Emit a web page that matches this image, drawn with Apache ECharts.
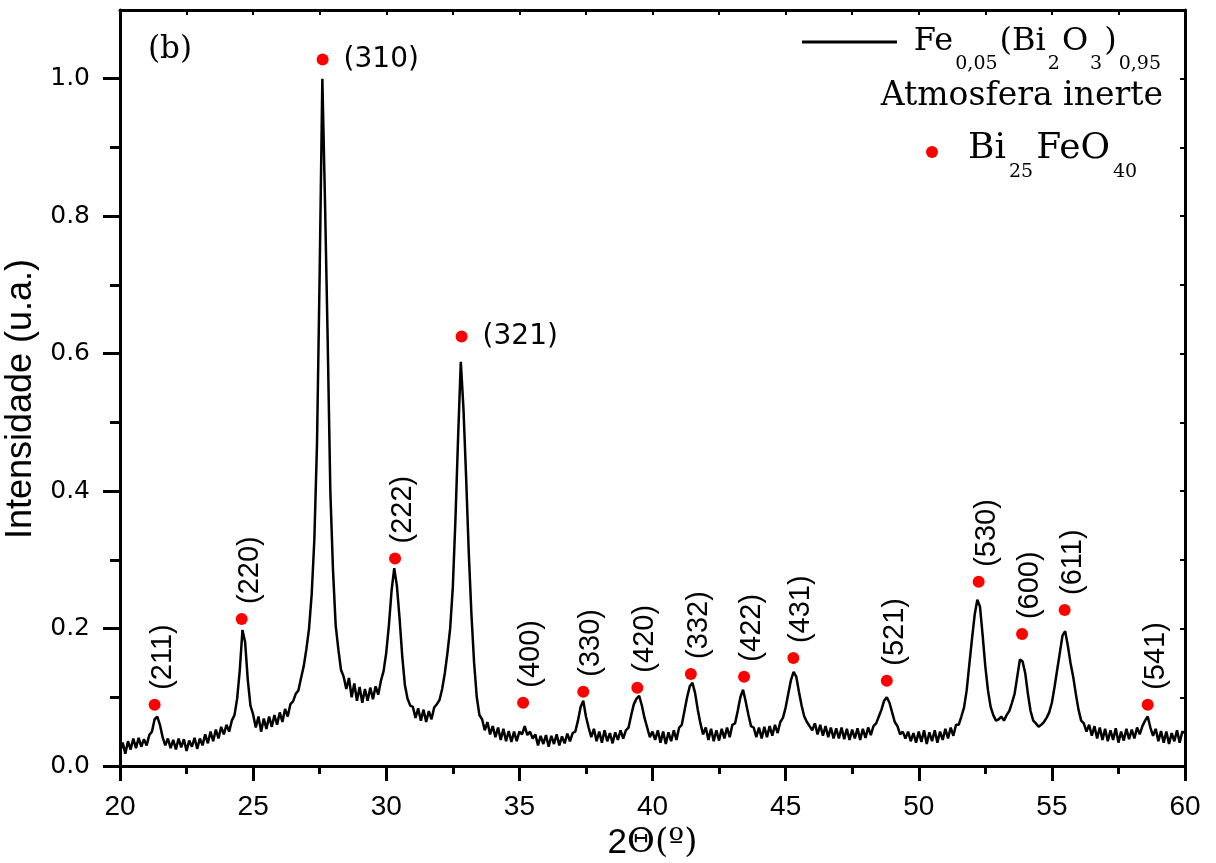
<!DOCTYPE html>
<html>
<head>
<meta charset="utf-8">
<script src="https://cdn.jsdelivr.net/npm/echarts@6/dist/echarts.min.js"></script>
<style>html,body{margin:0;padding:0;background:#fff}#chart{width:1216px;height:863px}</style>
</head>
<body>
<div id="chart"></div>
<script>
// 2-theta (degrees) of the scan
const twoTheta = [
20.0,20.1,20.2,20.3,20.4,20.5,20.6,20.7,20.8,20.9,
21.0,21.1,21.2,21.3,21.4,21.5,21.6,21.7,21.8,21.9,
22.0,22.1,22.2,22.3,22.4,22.5,22.6,22.7,22.8,22.9,
23.0,23.1,23.2,23.3,23.4,23.5,23.6,23.7,23.8,23.9,
24.0,24.1,24.2,24.3,24.4,24.5,24.6,24.7,24.8,24.9,
25.0,25.1,25.2,25.3,25.4,25.5,25.6,25.7,25.8,25.9,
26.0,26.1,26.2,26.3,26.4,26.5,26.6,26.7,26.8,26.9,
27.0,27.1,27.2,27.3,27.4,27.5,27.6,27.7,27.8,27.9,
28.0,28.1,28.2,28.3,28.4,28.5,28.6,28.7,28.8,28.9,
29.0,29.1,29.2,29.3,29.4,29.5,29.6,29.7,29.8,29.9,
30.0,30.1,30.2,30.3,30.4,30.5,30.6,30.7,30.8,30.9,
31.0,31.1,31.2,31.3,31.4,31.5,31.6,31.7,31.8,31.9,
32.0,32.1,32.2,32.3,32.4,32.5,32.6,32.7,32.8,32.9,
33.0,33.1,33.2,33.3,33.4,33.5,33.6,33.7,33.8,33.9,
34.0,34.1,34.2,34.3,34.4,34.5,34.6,34.7,34.8,34.9,
35.0,35.1,35.2,35.3,35.4,35.5,35.6,35.7,35.8,35.9,
36.0,36.1,36.2,36.3,36.4,36.5,36.6,36.7,36.8,36.9,
37.0,37.1,37.2,37.3,37.4,37.5,37.6,37.7,37.8,37.9,
38.0,38.1,38.2,38.3,38.4,38.5,38.6,38.7,38.8,38.9,
39.0,39.1,39.2,39.3,39.4,39.5,39.6,39.7,39.8,39.9,
40.0,40.1,40.2,40.3,40.4,40.5,40.6,40.7,40.8,40.9,
41.0,41.1,41.2,41.3,41.4,41.5,41.6,41.7,41.8,41.9,
42.0,42.1,42.2,42.3,42.4,42.5,42.6,42.7,42.8,42.9,
43.0,43.1,43.2,43.3,43.4,43.5,43.6,43.7,43.8,43.9,
44.0,44.1,44.2,44.3,44.4,44.5,44.6,44.7,44.8,44.9,
45.0,45.1,45.2,45.3,45.4,45.5,45.6,45.7,45.8,45.9,
46.0,46.1,46.2,46.3,46.4,46.5,46.6,46.7,46.8,46.9,
47.0,47.1,47.2,47.3,47.4,47.5,47.6,47.7,47.8,47.9,
48.0,48.1,48.2,48.3,48.4,48.5,48.6,48.7,48.8,48.9,
49.0,49.1,49.2,49.3,49.4,49.5,49.6,49.7,49.8,49.9,
50.0,50.1,50.2,50.3,50.4,50.5,50.6,50.7,50.8,50.9,
51.0,51.1,51.2,51.3,51.4,51.5,51.6,51.7,51.8,51.9,
52.0,52.1,52.2,52.3,52.4,52.5,52.6,52.7,52.8,52.9,
53.0,53.1,53.2,53.3,53.4,53.5,53.6,53.7,53.8,53.9,
54.0,54.1,54.2,54.3,54.4,54.5,54.6,54.7,54.8,54.9,
55.0,55.1,55.2,55.3,55.4,55.5,55.6,55.7,55.8,55.9,
56.0,56.1,56.2,56.3,56.4,56.5,56.6,56.7,56.8,56.9,
57.0,57.1,57.2,57.3,57.4,57.5,57.6,57.7,57.8,57.9,
58.0,58.1,58.2,58.3,58.4,58.5,58.6,58.7,58.8,58.9,
59.0,59.1,59.2,59.3,59.4,59.5,59.6,59.7,59.8,59.9,
60.0
];
// normalized intensity (u.a.)
const intensity = [
0.020,0.034,0.018,0.036,0.024,0.040,0.026,0.041,0.028,0.039,
0.030,0.045,0.050,0.068,0.072,0.060,0.042,0.030,0.040,0.026,
0.038,0.024,0.040,0.027,0.039,0.022,0.037,0.028,0.041,0.025,
0.040,0.030,0.046,0.033,0.050,0.036,0.053,0.040,0.057,0.046,
0.060,0.050,0.066,0.074,0.098,0.140,0.198,0.180,0.125,0.088,
0.075,0.056,0.072,0.050,0.069,0.054,0.072,0.057,0.074,0.060,
0.078,0.064,0.083,0.072,0.090,0.094,0.105,0.110,0.128,0.145,
0.170,0.200,0.250,0.330,0.470,0.720,1.000,0.820,0.620,0.400,
0.285,0.205,0.170,0.140,0.130,0.112,0.128,0.100,0.120,0.095,
0.115,0.092,0.112,0.095,0.114,0.097,0.116,0.104,0.124,0.138,
0.165,0.205,0.255,0.288,0.262,0.215,0.160,0.118,0.098,0.088,
0.086,0.070,0.084,0.066,0.082,0.064,0.080,0.068,0.085,0.090,
0.096,0.112,0.135,0.165,0.200,0.260,0.360,0.480,0.588,0.520,
0.420,0.310,0.220,0.150,0.100,0.074,0.068,0.052,0.064,0.046,
0.058,0.042,0.056,0.038,0.054,0.036,0.051,0.035,0.050,0.036,
0.050,0.046,0.058,0.045,0.050,0.040,0.046,0.030,0.044,0.032,
0.045,0.028,0.044,0.032,0.046,0.030,0.043,0.033,0.047,0.036,
0.048,0.050,0.066,0.086,0.095,0.072,0.056,0.042,0.054,0.036,
0.050,0.034,0.052,0.036,0.048,0.033,0.049,0.038,0.052,0.040,
0.052,0.056,0.074,0.090,0.098,0.102,0.088,0.070,0.056,0.042,
0.050,0.038,0.052,0.034,0.050,0.032,0.049,0.036,0.052,0.038,
0.056,0.060,0.080,0.100,0.116,0.121,0.106,0.082,0.062,0.046,
0.056,0.038,0.054,0.036,0.052,0.037,0.054,0.040,0.056,0.042,
0.060,0.062,0.080,0.100,0.111,0.094,0.075,0.058,0.056,0.042,
0.056,0.040,0.057,0.042,0.058,0.044,0.060,0.048,0.064,0.070,
0.085,0.105,0.125,0.137,0.130,0.108,0.088,0.072,0.064,0.058,
0.052,0.062,0.046,0.060,0.044,0.058,0.042,0.056,0.040,0.055,
0.040,0.056,0.039,0.054,0.038,0.053,0.040,0.055,0.038,0.054,
0.041,0.056,0.045,0.058,0.062,0.072,0.082,0.095,0.100,0.092,
0.078,0.064,0.058,0.046,0.050,0.040,0.050,0.036,0.048,0.034,
0.050,0.035,0.052,0.032,0.049,0.036,0.052,0.034,0.050,0.038,
0.054,0.040,0.056,0.044,0.060,0.060,0.072,0.085,0.110,0.148,
0.185,0.220,0.242,0.232,0.190,0.145,0.110,0.086,0.074,0.066,
0.068,0.072,0.066,0.074,0.080,0.092,0.105,0.130,0.155,0.152,
0.135,0.105,0.080,0.066,0.062,0.057,0.060,0.064,0.070,0.078,
0.092,0.115,0.140,0.165,0.190,0.196,0.175,0.150,0.130,0.105,
0.082,0.066,0.062,0.050,0.060,0.044,0.058,0.040,0.056,0.038,
0.054,0.036,0.052,0.038,0.055,0.034,0.050,0.037,0.054,0.039,
0.053,0.040,0.056,0.046,0.058,0.066,0.072,0.056,0.044,0.054,
0.036,0.051,0.034,0.050,0.032,0.048,0.036,0.052,0.034,0.050,
0.048
];

// Bi25FeO40 reflections
const peakHkl   = ['(211)','(220)','(310)','(222)','(321)','(400)','(330)','(420)','(332)','(422)','(431)','(521)','(530)','(600)','(611)','(541)'];
const peakAngle = [21.30, 24.57, 27.61, 30.33, 32.83, 35.14, 37.40, 39.43, 41.44, 43.44, 45.29, 48.80, 52.25, 53.88, 55.48, 58.60];
const peakMark  = [0.089, 0.214, 1.028, 0.302, 0.625, 0.092, 0.108, 0.114, 0.134, 0.130, 0.157, 0.124, 0.268, 0.192, 0.227, 0.089];
const horizontalPeakLabels = ['(310)', '(321)'];

const yMajorTicks = [0, 0.2, 0.4, 0.6, 0.8, 1.0];
const yMinorTicks = [0.1, 0.3, 0.5, 0.7, 0.9];
const yRightTicks = [0.1, 0.2, 0.3, 0.4, 0.5, 0.6, 0.7, 0.8, 0.9, 1.0];

const seriesName = 'Fe0,05(Bi2O3)0,95 Atmosfera inerte';
const phaseName = 'Bi25FeO40';

const chart = echarts.init(document.getElementById('chart'), null, {renderer: 'canvas'});

const lineData = twoTheta.map((t, i) => [t, intensity[i]]);
const peakData = peakHkl.map((hkl, i) => {
  const horiz = horizontalPeakLabels.indexOf(hkl) >= 0;
  return {
    name: hkl,
    value: [peakAngle[i], peakMark[i]],
    label: horiz ? {
      show: true, formatter: '{b}', position: 'right', distance: 15, rotate: 0,
      fontFamily: 'DejaVu Sans', fontSize: 28, color: '#000'
    } : {
      show: true, formatter: '{b}', position: 'top', distance: 9, rotate: 90,
      align: 'left', verticalAlign: 'middle', offset: [0, 8],
      fontFamily: 'Liberation Sans', fontSize: 29, color: '#000'
    }
  };
});

const option = {
  animation: false,
  backgroundColor: '#fff',
  grid: {left: 120, right: 31, top: 10, bottom: 97, containLabel: false, outerBoundsMode: 'none'},
  xAxis: [{
    type: 'value', min: 20, max: 60, interval: 5, position: 'bottom',
    name: '{a|2}{b|Θ(º)}', nameLocation: 'middle', nameGap: 56,
    nameTextStyle: {rich: {
      a: {fontFamily: 'Liberation Sans', fontSize: 35, color: '#000'},
      b: {fontFamily: 'DejaVu Serif', fontSize: 34, color: '#000'}
    }},
    axisLine: {show: true, onZero: false, lineStyle: {color: '#000', width: 3}},
    axisTick: {show: true, inside: false, length: 15, lineStyle: {color: '#000', width: 3}},
    minorTick: {show: true, splitNumber: 2, length: 8, lineStyle: {color: '#000', width: 3}},
    axisLabel: {show: true, margin: 27, fontFamily: 'Liberation Sans', fontSize: 28, color: '#000'},
    splitLine: {show: false}, minorSplitLine: {show: false}
  }, {
    type: 'value', min: 20, max: 60, interval: 2.5, position: 'top',
    axisLine: {show: true, onZero: false, lineStyle: {color: '#000', width: 3}},
    axisTick: {show: true, inside: true, length: 5, lineStyle: {color: '#000', width: 2}},
    axisLabel: {show: false}, splitLine: {show: false}
  }],
  yAxis: [{
    type: 'value', min: 0, max: 1.1, position: 'left',
    name: 'Intensidade (u.a.)', nameLocation: 'middle', nameRotate: 90, nameGap: 64,
    nameTextStyle: {fontFamily: 'Liberation Sans', fontSize: 36, color: '#000', padding: [0, 22, 0, 0]},
    axisLine: {show: true, onZero: false, lineStyle: {color: '#000', width: 3}},
    axisTick: {show: true, inside: false, length: 17, customValues: yMajorTicks, lineStyle: {color: '#000', width: 3}},
    axisLabel: {show: true, margin: 30, customValues: yMajorTicks, formatter: v => v.toFixed(1),
      fontFamily: 'DejaVu Sans', fontSize: 25, color: '#000'},
    splitLine: {show: false}
  }, {
    type: 'value', min: 0, max: 1.1, position: 'left',
    axisLine: {show: false, onZero: false},
    axisTick: {show: true, inside: false, length: 10, customValues: yMinorTicks, lineStyle: {color: '#000', width: 3}},
    axisLabel: {show: false}, splitLine: {show: false}
  }, {
    type: 'value', min: 0, max: 1.1, position: 'right',
    axisLine: {show: true, onZero: false, lineStyle: {color: '#000', width: 3}},
    axisTick: {show: true, inside: true, length: 5, customValues: yRightTicks, lineStyle: {color: '#000', width: 2}},
    axisLabel: {show: false}, splitLine: {show: false}
  }],
  series: [{
    name: seriesName, type: 'line', xAxisIndex: 0, yAxisIndex: 0,
    data: lineData, showSymbol: false, symbol: 'none', smooth: false,
    lineStyle: {color: '#000', width: 2.5}, z: 2, silent: true
  }, {
    name: phaseName, type: 'scatter', xAxisIndex: 0, yAxisIndex: 0,
    data: peakData, symbol: 'circle', symbolSize: 12,
    itemStyle: {color: '#ff0000', opacity: 1}, z: 3, silent: true
  }],
  graphic: [
    {type: 'text', x: 170, y: 50, style: {text: '(b)', align: 'center', verticalAlign: 'middle',
      fontFamily: 'DejaVu Serif', fontSize: 31, fill: '#000'}},
    {type: 'line', shape: {x1: 802, y1: 42, x2: 897, y2: 42}, style: {stroke: '#000', lineWidth: 3}},
    {type: 'text', x: 1163, y: 26, style: {
      text: '{m|Fe}{s|0,05}{m|(Bi}{s|2}{m|O}{s|3}{m|)}{s|0,95}', align: 'right', verticalAlign: 'top',
      rich: {
        m: {fontFamily: 'DejaVu Serif', fontSize: 32, verticalAlign: 'top', fill: '#000'},
        s: {fontFamily: 'DejaVu Serif', fontSize: 19, verticalAlign: 'top', padding: [29, 2, 0, 2], fill: '#000'}
      }}},
    {type: 'text', x: 1163, y: 96, style: {text: 'Atmosfera inerte', align: 'right', verticalAlign: 'middle',
      fontFamily: 'DejaVu Serif', fontSize: 33, fill: '#000'}},
    {type: 'circle', shape: {cx: 932, cy: 152, r: 6}, style: {fill: '#ff0000'}},
    {type: 'text', x: 968, y: 131, style: {
      text: '{m|Bi}{s|25}{m|FeO}{s|40}', align: 'left', verticalAlign: 'top',
      rich: {
        m: {fontFamily: 'DejaVu Serif', fontSize: 36, verticalAlign: 'top', fill: '#000'},
        s: {fontFamily: 'DejaVu Serif', fontSize: 19, verticalAlign: 'top', padding: [32, 3, 0, 3], fill: '#000'}
      }}}
  ]
};
chart.setOption(option);
</script>
</body>
</html>
